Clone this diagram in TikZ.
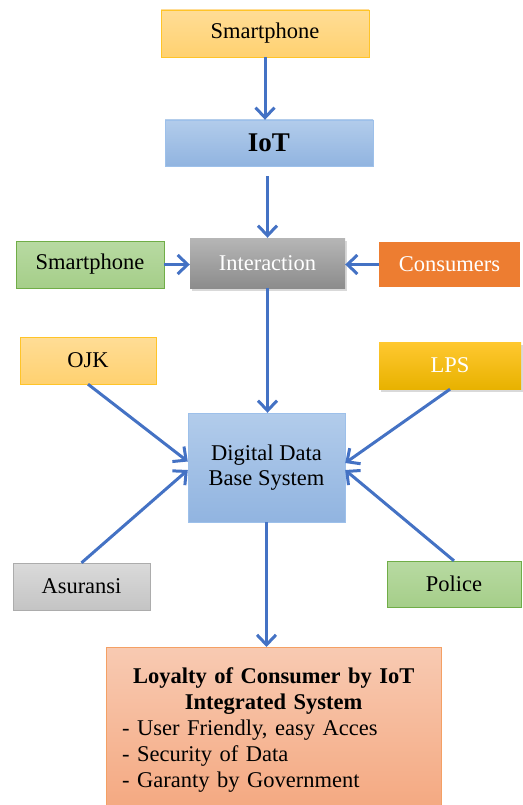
\documentclass[tikz,border=0pt]{standalone}
\usepackage{fontspec}
\setmainfont{Liberation Serif}
\usetikzlibrary{arrows.meta,shadows}
\definecolor{linkblue}{RGB}{68,114,196}

\begin{document}
\begin{tikzpicture}[x=1pt,y=-1pt,
    box/.style={inner sep=0pt,align=center,font=\fontsize{22.5}{25}\selectfont},
    tan/.style={box,draw={rgb,255:red,255;green,196;blue,40},top color={rgb,255:red,255;green,221;blue,150},bottom color={rgb,255:red,255;green,209;blue,112}},
    blue/.style={box,draw={rgb,255:red,157;green,192;blue,234},top color={rgb,255:red,178;green,204;blue,235},bottom color={rgb,255:red,145;green,180;blue,224}},
    green/.style={box,draw={rgb,255:red,112;green,173;blue,71},top color={rgb,255:red,184;green,218;blue,162},bottom color={rgb,255:red,165;green,206;blue,137}},
    grey/.style={box,draw={rgb,255:red,172;green,172;blue,172},top color={rgb,255:red,218;green,218;blue,218},bottom color={rgb,255:red,196;green,196;blue,196}},
    shadowed/.style={drop shadow={opacity=.3,shadow xshift=2pt,shadow yshift=-3pt}},
    link/.style={draw=linkblue,line width=3pt,-{Straight Barb[length=10pt,width=19pt,line width=3pt]}}]
    \useasboundingbox(0,0)rectangle(522,805);
    \node[tan,minimum width=208pt,minimum height=47pt](phone)at(265,33.5){Smartphone};
    \node[blue,minimum width=208pt,minimum height=46pt,font=\fontsize{27}{30}\selectfont\bfseries](iot)at(269,143){IoT};
    \node[box,shadowed,text=white,top color={rgb,255:red,182;green,182;blue,182},bottom color={rgb,255:red,140;green,140;blue,140},minimum width=155pt,minimum height=50pt](inter)at(267.5,263){Interaction};
    \node[green,minimum width=148pt,minimum height=47pt](app)at(90,264.5){Smartphone};
    \node[box,text=white,fill={rgb,255:red,237;green,125;blue,49},minimum width=141pt,minimum height=45pt](cons)at(449.5,264.5){Consumers};
    \node[tan,minimum width=136pt,minimum height=47pt](ojk)at(88,360.5){OJK};
    \node[box,shadowed,text=white,top color={rgb,255:red,255;green,200;blue,48},bottom color={rgb,255:red,232;green,178;blue,0},minimum width=142pt,minimum height=47pt](lps)at(450,365.5){LPS};
    \node[blue,minimum width=157pt,minimum height=109pt](ddbs)at(266.5,467.5){Digital Data\\Base System};
    \node[grey,minimum width=137pt,minimum height=47pt](asuransi)at(81.5,586.5){Asuransi};
    \node[green,minimum width=134pt,minimum height=46pt](police)at(454,584){Police};
    \node[draw={rgb,255:red,244;green,160;blue,100},top color={rgb,255:red,248;green,202;blue,178},bottom color={rgb,255:red,244;green,168;blue,128},
        anchor=north west,inner xsep=16pt,inner ysep=20pt,text width=303pt,align=left,font=\fontsize{22.5}{26}\selectfont](loyal)at(106,647)
        {\makebox[\linewidth][c]{\bfseries Loyalty of Consumer by IoT}\\\makebox[\linewidth][c]{\bfseries Integrated System}\\
        - User Friendly, easy Acces\\- Security of Data\\- Garanty by Government};
    \draw[link](phone.south)--(phone.south|-iot.north);
    \draw[link,shorten <=10pt](inter.north|-iot.south)--(inter.north);
    \draw[link](app.east)--(app.east-|inter.west);
    \draw[link](cons.west)--(cons.west-|inter.east);
    \draw[link](inter.south)--(inter.south|-ddbs.north);
    \draw[link](ojk.south)--([yshift=6pt]ddbs.west);
    \draw[link](asuransi.north)--([yshift=-2.5pt]ddbs.west);
    \draw[link](lps.south)--([yshift=4.5pt]ddbs.east);
    \draw[link](police.north)--([yshift=-2.5pt]ddbs.east);
    \draw[link](ddbs.south)--(ddbs.south|-loyal.north);
\end{tikzpicture}
\end{document}
